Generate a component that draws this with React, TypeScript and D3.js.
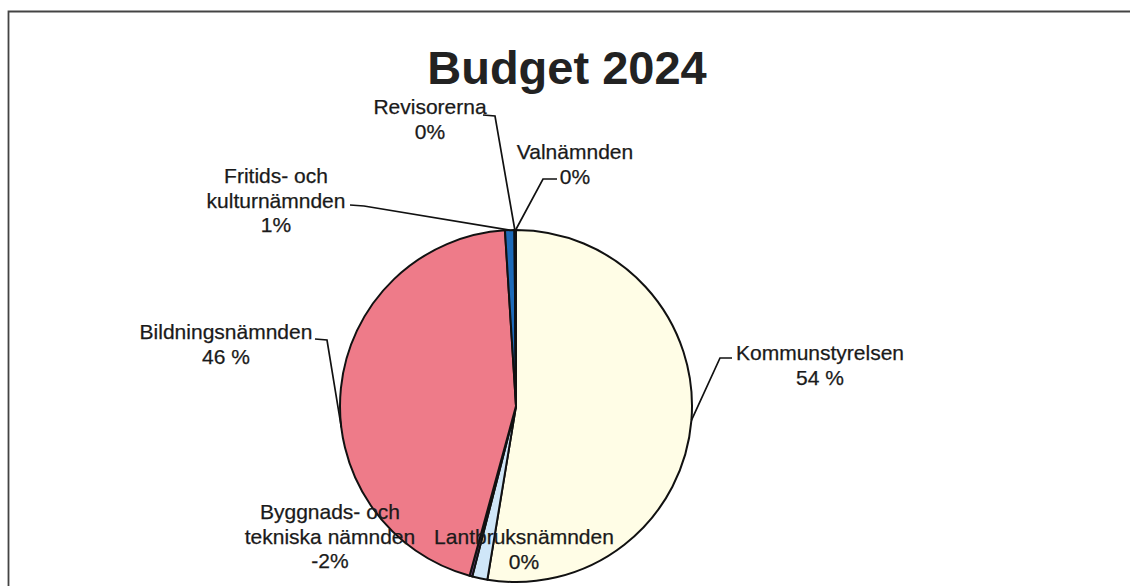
import React from "react";
import * as d3 from "d3";

const categories = [
  "Kommunstyrelsen",
  "Lantbruksnämnden",
  "Byggnads- och tekniska nämnden",
  "Bildningsnämnden",
  "Fritids- och kulturnämnden",
  "Revisorerna",
  "Valnämnden",
];
// slice sizes (share of the circle, %)
const sliceValues = [52.6, 1.4, 0.25, 44.75, 0.86, 0.07, 0.07];
// label text (as printed in the chart)
const labelLines = [
  ["Kommunstyrelsen", "54 %"],
  ["Lantbruksnämnden", "0%"],
  ["Byggnads- och", "tekniska nämnden", "-2%"],
  ["Bildningsnämnden", "46 %"],
  ["Fritids- och", "kulturnämnden", "1%"],
  ["Revisorerna", "0%"],
  ["Valnämnden", "0%"],
];
const colors = ["#FFFDE6", "#CFE6F8", "#7A4C8E", "#EE7B89", "#1C6AB8", "#2A3F8F", "#E8E8E8"];

// layout for labels: text centre x, first baseline y, leader elbow (or null), anchor angle override (deg) or null
const labelLayout = [
  { x: 820, y: 360, elbow: [[732, 358], [720, 358]], anchorDeg: null },
  { x: 524, y: 544, elbow: null, anchorDeg: null },
  { x: 330, y: 519, elbow: null, anchorDeg: null },
  { x: 226, y: 339, elbow: [[315, 339], [327, 340]], anchorDeg: 263 },
  { x: 276, y: 183, elbow: [[350, 205], [364, 206]], anchorDeg: null },
  { x: 430, y: 114, elbow: [[483, 115], [495, 116]], anchorDeg: null },
  { x: 575, y: 159, elbow: [[557, 179], [543, 179]], anchorDeg: null },
];

const W = 1130;
const H = 586;
const cx = 516;
const cy = 406;
const R = 176;
const font = "'Liberation Sans', Arial, Helvetica, sans-serif";

export default function App() {
  const pie = d3.pie<number>().sort(null).value((d) => d);
  const arcs = pie(sliceValues);
  const arcGen = d3.arc<d3.PieArcDatum<number>>().innerRadius(0).outerRadius(R);

  const pointAt = (angleRad: number): [number, number] => [
    cx + R * Math.sin(angleRad),
    cy - R * Math.cos(angleRad),
  ];

  return (
    <svg
      width={W}
      height={H}
      style={{ position: "absolute", left: 0, top: 0, background: "#fff" }}
    >
      <rect x={0} y={0} width={W} height={H} fill="#fff" />
      <path d={`M8.5,${H + 5} L8.5,11.5 L${W + 5},11.5`} fill="none" stroke="#444" strokeWidth={1.8} />
      <text
        x={567}
        y={84}
        textAnchor="middle"
        fontFamily={font}
        fontWeight="bold"
        fontSize={47}
        fill="#222"
      >
        Budget 2024
      </text>
      <g transform={`translate(${cx},${cy})`}>
        {arcs.map((a, i) => (
          <path key={categories[i]} d={arcGen(a) || ""} fill={colors[i]} stroke="#111" strokeWidth={2} strokeLinejoin="round" />
        ))}
      </g>
      {arcs.map((a, i) => {
        const lay = labelLayout[i];
        if (!lay.elbow) return null;
        const ang = lay.anchorDeg != null ? (lay.anchorDeg * Math.PI) / 180 : (a.startAngle + a.endAngle) / 2;
        const p = pointAt(ang);
        const pts = [...lay.elbow, p];
        const line = d3.line()(pts as [number, number][]);
        return <path key={"l" + i} d={line || ""} fill="none" stroke="#111" strokeWidth={1.7} />;
      })}
      {labelLines.map((lines, i) => {
        const lay = labelLayout[i];
        return (
          <text key={"t" + i} textAnchor="middle" fontFamily={font} fontSize={21} fill="#1a1a1a" stroke="#1a1a1a" strokeWidth={0.25}>
            {lines.map((ln, j) => (
              <tspan key={j} x={lay.x} y={lay.y + j * 24.5}>
                {ln}
              </tspan>
            ))}
          </text>
        );
      })}
    </svg>
  );
}
